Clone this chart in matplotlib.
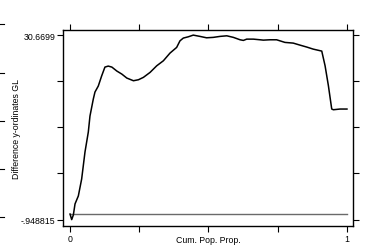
import numpy as np
import matplotlib
matplotlib.use("Agg")
import matplotlib.pyplot as plt
from matplotlib.lines import Line2D

plt.rcParams['font.family'] = ['Liberation Sans', 'DejaVu Sans']

# data
cum_pop = [0.0, 0.006, 0.012, 0.018, 0.030, 0.042, 0.054, 0.066, 0.072, 0.084,
           0.090, 0.102, 0.114, 0.126, 0.138, 0.151, 0.169, 0.187, 0.205, 0.229,
           0.247, 0.265, 0.289, 0.313, 0.337, 0.361, 0.385, 0.397, 0.409, 0.427,
           0.445, 0.469, 0.493, 0.517, 0.542, 0.566, 0.590, 0.614, 0.626, 0.638,
           0.662, 0.686, 0.698, 0.722, 0.746, 0.758, 0.776, 0.806, 0.830, 0.855,
           0.878, 0.909, 0.921, 0.933, 0.945, 0.951, 0.975, 1.0]
diff_gl = [0.0, -0.948815, -0.15, 1.74, 3.11, 6.02, 10.64, 14.06, 16.8, 19.71,
           20.91, 21.94, 23.65, 25.19, 25.36, 25.19, 24.51, 23.99, 23.31, 22.85,
           23.02, 23.43, 24.28, 25.41, 26.27, 27.59, 28.56, 29.69, 30.16, 30.38,
           30.6699, 30.45, 30.21, 30.28, 30.45, 30.55, 30.28, 29.87, 29.76, 29.98,
           29.98, 29.87, 29.81, 29.87, 29.87, 29.69, 29.42, 29.30, 28.96, 28.62,
           28.27, 27.93, 25.41, 21.99, 18.00, 17.88, 18.00, 18.00]
ref_x = [0, 1]
ref_y = [0, 0]

y_min, y_max = -0.948815, 30.6699
x_ticks = [0, 0.25, 0.5, 0.75, 1]
x_labels = ['0', '', '', '', '1']
y_ticks = np.linspace(y_min, y_max, 5)
y_labels = ['-.948815', '', '', '', '30.6699']

fig = plt.figure(figsize=(3.82, 2.51), dpi=100)
ax = fig.add_axes([0.165, 0.096, 0.759, 0.782])

ax.plot(ref_x, ref_y, color='#6a6a6a', lw=1.0)
ax.plot(cum_pop, diff_gl, color='black', lw=1.1)

ax.set_xlim(-0.0253, 1.0217)
ax.set_ylim(-2.027, 31.61)

ax.set_xticks(x_ticks)
ax.set_xticklabels(x_labels)
ax.set_yticks(y_ticks)
ax.set_yticklabels(y_labels)
ax.tick_params(direction='out', length=4, width=0.8, labelsize=6.3,
               colors='black', pad=1.5, top=True, right=True)

for s in ax.spines.values():
    s.set_linewidth(1.0)

ax.set_xlabel('Cum. Pop. Prop.', fontsize=6.3, va='center')
ax.xaxis.set_label_coords(0.5, -0.071)
ax.set_ylabel('Difference y-ordinates GL', fontsize=6.3, va='center')
ax.yaxis.set_label_coords(-0.159, 0.5)

# stray ticks at the far left edge
for yp in [25, 74, 122, 170, 218]:
    yf = 1 - yp / 251
    fig.add_artist(Line2D([0, 4 / 382], [yf, yf], color='black', lw=0.8))

fig.savefig('out.png', dpi=100)
